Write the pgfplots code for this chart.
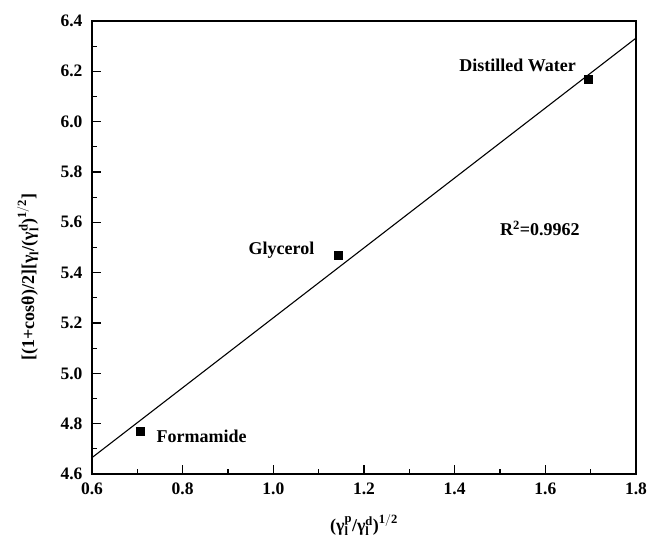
\documentclass[border=0pt]{standalone}
\usepackage{fontspec}
\setmainfont{Liberation Serif}
\usepackage{pgfplots}
\pgfplotsset{compat=1.18}
% gamma with stacked sub/superscript, all in the text font
\newcommand{\gl}[1]{\mbox{γ}_{\mathbf{l}}^{\mathbf{#1}}}
\begin{document}
\begin{tikzpicture}
\begin{axis}[
  scale only axis,
  width=544pt, height=453pt,
  xmin=0.6, xmax=1.8, ymin=4.6, ymax=6.4,
  xtick={0.6,0.8,...,1.81}, ytick={4.6,4.8,...,6.41},
  minor x tick num=1, minor y tick num=1,
  tick pos=left, tick align=inside,
  major tick length=9pt, minor tick length=5pt,
  every tick/.style={line width=1.2pt, black},
  axis line style={line width=1.3pt},
  /pgf/number format/.cd, fixed, fixed zerofill, precision=1, assume math mode=true,
  /pgfplots/.cd,
  tick label style={font=\fontsize{17.5}{17.5}\selectfont\bfseries},
  xticklabel style={yshift=-5pt},
  yticklabel style={xshift=-6pt},
  xlabel={$\mbox{(}\gl{p}\mbox{/}\gl{d}\mbox{)}^{\mathbf{1/2}}$},
  ylabel={[(1+cosθ)/2][$\mbox{γ}_{\mathbf{l}}$/$\mbox{(}\gl{d}\mbox{)}^{\mathbf{1/2}}$]},
  every axis x label/.style={at={(axis description cs:0.5,-0.113)}, anchor=center,
    font=\fontsize{18}{18}\selectfont\bfseries},
  every axis y label/.style={at={(axis description cs:-0.118,0.435)}, anchor=center, rotate=90,
    font=\fontsize{18}{18}\selectfont\bfseries},
]
\addplot[black, line width=1.1pt] coordinates {(0.6,4.665) (1.8,6.332)};
\addplot[only marks, mark=square*, mark size=4pt, black] coordinates {
  (0.707,4.772) (1.143,5.470) (1.695,6.168)};
\node[font=\fontsize{18}{18}\selectfont\bfseries] at (axis cs:1.539,6.225) {Distilled Water};
\node[font=\fontsize{18}{18}\selectfont\bfseries] at (axis cs:1.018,5.49) {Glycerol};
\node[font=\fontsize{18}{18}\selectfont\bfseries] at (axis cs:0.842,4.751) {Formamide};
\node[font=\fontsize{18}{18}\selectfont\bfseries] at (axis cs:1.588,5.577) {R\textsuperscript{2}=0.9962};
\end{axis}
% page margins as in the reference
\path ([yshift=21pt]current axis.north) ([yshift=-68pt]current axis.south)
      ([xshift=-92pt]current axis.west) ([xshift=15pt]current axis.east);
\end{tikzpicture}
\end{document}
